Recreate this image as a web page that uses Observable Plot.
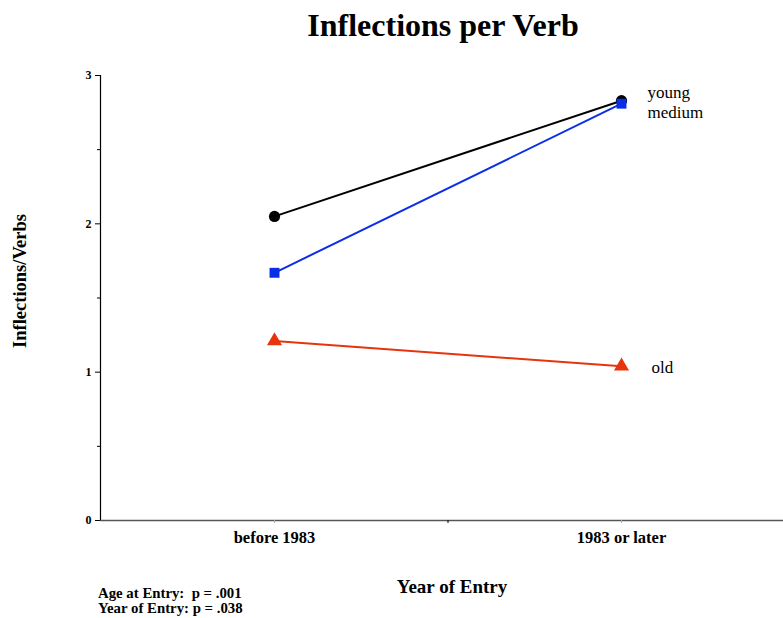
<!DOCTYPE html>
<html>
<head>
<meta charset="utf-8">
<script src="https://cdn.jsdelivr.net/npm/d3@7"></script>
<script src="https://cdn.jsdelivr.net/npm/@observablehq/plot@0.6"></script>
<style>
  body { margin: 0; background: #fff; font-family: "Liberation Serif", "Times New Roman", serif; }
  #wrap { position: relative; width: 783px; height: 618px; overflow: hidden; }
  #wrap svg { position: absolute; left: 0; top: 0; }
  .abs { position: absolute; white-space: nowrap; color: #000; font-weight: bold; }
  #title { left: 443px; top: 25px; font-size: 32px; transform: translate(-50%, -50%); }
  #ylab { left: 20px; top: 281px; font-size: 18.5px; transform: translate(-50%, -50%) rotate(-90deg); }
  #xlab { left: 452px; top: 587px; font-size: 19px; transform: translate(-50%, -50%); }
  #cap { left: 98px; top: 586px; font-size: 14.8px; line-height: 15px; }
</style>
</head>
<body>
<div id="wrap">
  <div id="chart"></div>
  <div class="abs" id="title">Inflections per Verb</div>
  <div class="abs" id="ylab">Inflections/Verbs</div>
  <div class="abs" id="xlab">Year of Entry</div>
  <div class="abs" id="cap">Age at Entry:&nbsp; p = .001<br>Year of Entry: p = .038</div>
</div>
<script>
const categories = ["before 1983", "1983 or later"];
const seriesNames = ["young", "medium", "old"];
const young = [2.05, 2.83];
const medium = [1.67, 2.81];
const old = [1.21, 1.04];
const seriesColors = ["#000000", "#0a2ee6", "#e8340c"];
const seriesSymbols = ["circle", "square", "triangle"];
const yTicks = [0, 1, 2, 3];
const yMinorTicks = [0.5, 1.5, 2.5];

const valuesBySeries = { young, medium, old };
const rows = [];
for (const s of seriesNames) {
  valuesBySeries[s].forEach((v, i) => rows.push({ series: s, cat: categories[i], i, value: v }));
}
const lastOf = s => rows.filter(d => d.series === s && d.i === categories.length - 1);
const label = (s, dx, dy) => Plot.text(lastOf(s), {
  x: d => d.i, y: "value", text: "series", textAnchor: "start",
  dx, dy, fontSize: 17, fill: "#000"
});

const plot = Plot.plot({
  width: 783,
  height: 618,
  marginTop: 75,
  marginBottom: 98,
  marginLeft: 100,
  marginRight: 0,
  style: { fontFamily: "Liberation Serif, serif", background: "transparent" },
  x: { type: "linear", domain: [0, 1], range: [274, 621] },
  y: { domain: [0, 3] },
  color: { domain: seriesNames, range: seriesColors },
  symbol: { domain: seriesNames, range: seriesSymbols },
  marks: [
    Plot.frame({ anchor: "left", stroke: "#000", strokeWidth: 1.2 }),
    Plot.frame({ anchor: "bottom", stroke: "#555", strokeWidth: 1.5 }),
    Plot.axisY({ ticks: yTicks, tickSize: 5, tickPadding: 4, tickFormat: d => String(d), fontSize: 12, fontWeight: "bold", label: null, stroke: "#000" }),
    Plot.axisY({ ticks: yMinorTicks, tickSize: 3, tickFormat: null, label: null, text: null }),
    Plot.axisX({ ticks: [0, 1], tickSize: 3, tickPadding: 8, tickFormat: i => categories[i], fontSize: 16.5, fontWeight: "bold", label: null, stroke: "#aaa" }),
    Plot.axisX({ ticks: [0.5], tickSize: 3, tickFormat: null, label: null, text: null }),
    Plot.line(rows, { x: d => d.i, y: "value", z: "series", stroke: "series", strokeWidth: 2 }),
    Plot.dot(rows, { x: d => d.i, y: "value", fill: "series", symbol: "series", r: 5.6, stroke: null }),
    label("young", 26, -8),
    label("medium", 26, 9),
    label("old", 30, 1)
  ]
});
document.getElementById("chart").appendChild(plot);
</script>
</body>
</html>
